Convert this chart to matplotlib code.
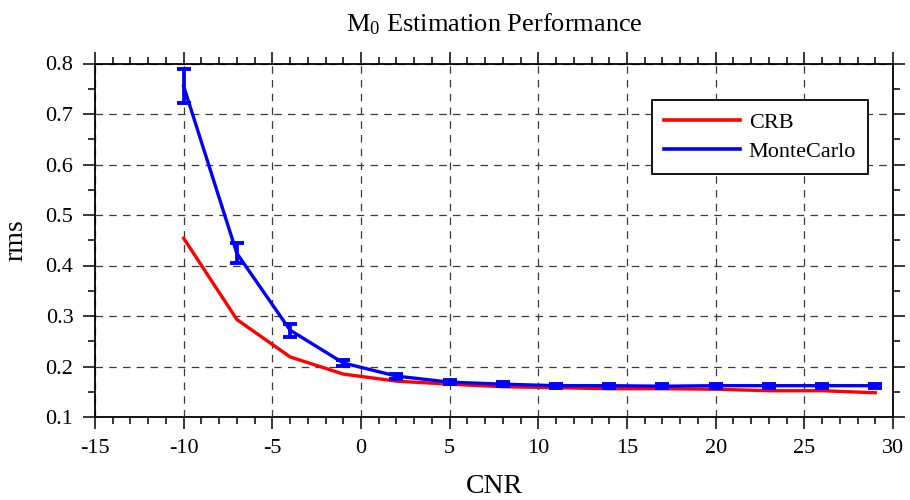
import matplotlib
matplotlib.use("Agg")
import matplotlib.pyplot as plt
from matplotlib.ticker import MultipleLocator
from matplotlib.lines import Line2D

plt.rcParams['font.family'] = ['Liberation Serif', 'DejaVu Serif']
plt.rcParams['mathtext.fontset'] = 'custom'
plt.rcParams['mathtext.rm'] = 'Liberation Serif'
plt.rcParams['mathtext.it'] = 'Liberation Serif:italic'
plt.rcParams['axes.unicode_minus'] = False

cnr = [-10, -7, -4, -1, 2, 5, 8, 11, 14, 17, 20, 23, 26, 29]
crb = [0.454, 0.293, 0.219, 0.185, 0.171, 0.165, 0.160, 0.158, 0.156, 0.156, 0.155, 0.152, 0.152, 0.148]
monte_carlo = [0.755, 0.424, 0.272, 0.207, 0.181, 0.169, 0.165, 0.162, 0.162, 0.161, 0.162, 0.162, 0.162, 0.162]
mc_err = [0.034, 0.020, 0.013, 0.006, 0.005, 0.004, 0.004, 0.004, 0.004, 0.004, 0.004, 0.004, 0.004, 0.004]

W, H = 910, 500
fig = plt.figure(figsize=(W / 100, H / 100), dpi=100)
ax = fig.add_axes([95 / W, 1 - 417 / H, (893 - 95) / W, (417 - 63.5) / H])

ax.plot(cnr, crb, color='#ff0000', lw=2.4, label='CRB', zorder=3)
ax.errorbar(cnr, monte_carlo, yerr=mc_err, color='#0000ff', lw=2.4, elinewidth=2.7,
            capsize=5, capthick=2.8, label='MonteCarlo', zorder=4)

ax.set_xlim(-15, 30)
ax.set_ylim(0.1, 0.8)
ax.xaxis.set_major_locator(MultipleLocator(5))
ax.xaxis.set_minor_locator(MultipleLocator(1))
ax.yaxis.set_major_locator(MultipleLocator(0.1))
ax.yaxis.set_minor_locator(MultipleLocator(0.05))
ax.yaxis.set_major_formatter(matplotlib.ticker.FormatStrFormatter('%.1f'))

ax.tick_params(which='both', direction='out', top=True, right=True, labelsize=16, width=1.1, colors='black')
ax.tick_params(which='major', length=8.5)
ax.tick_params(which='minor', length=5)
ax.tick_params(axis='x', which='major', pad=7)
ax.tick_params(axis='y', which='major', pad=7)
for s in ax.spines.values():
    s.set_linewidth(1.3)

ax.grid(True, which='major', color='#3a3a3a', linestyle=(0, (6, 5)), linewidth=0.9)
ax.set_axisbelow(True)

ax.set_title('M$_0$ Estimation Performance', fontsize=19, pad=23)
ax.set_xlabel('CNR', fontsize=20, labelpad=12)
ax.set_ylabel('rms', fontsize=20, labelpad=12)

h = [Line2D([], [], color='#ff0000', lw=2.6), Line2D([], [], color='#0000ff', lw=2.6)]
leg = ax.legend(h, ['CRB', 'MonteCarlo'], loc='upper left',
                bbox_to_anchor=(652 / W, 1 - 100 / H), bbox_transform=fig.transFigure,
                borderaxespad=0, fontsize=16, frameon=True, fancybox=False, edgecolor='black',
                framealpha=1, handlelength=3.4, borderpad=0.55, labelspacing=0.4,
                handletextpad=0.4)
leg.get_frame().set_linewidth(1.3)

fig.savefig('out.png', dpi=100)
